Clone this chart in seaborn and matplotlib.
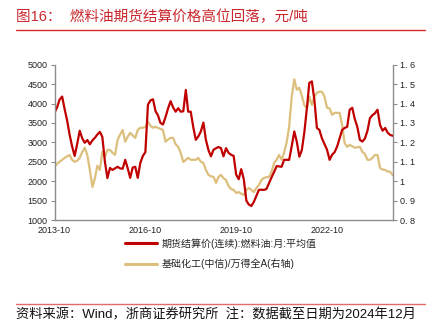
import numpy as np
import pandas as pd
import matplotlib
matplotlib.use("Agg")
import matplotlib.pyplot as plt
import matplotlib.dates as mdates
from matplotlib.lines import Line2D
from matplotlib.ticker import FuncFormatter, MultipleLocator
import seaborn as sns

# Monthly observations, 2013-10 .. 2024-12
start_month = "2013-10"
end_month = "2024-12"

# 期货结算价(连续):燃料油:月:平均值 (元/吨)
fuel_oil = [
    3760, 3900, 4100, 4180, 3850, 3580, 3200, 2900, 2650, 2950,
    3300, 3100, 2990, 3060, 2950, 3050, 3120, 3200, 3270, 3140,
    2500, 2080, 2340, 2290, 2330, 2370, 2330, 2320, 2550, 2340,
    2085, 2350, 2370, 2085, 2470, 2650, 2750, 3970, 4080, 4110,
    3800, 3700, 3500, 3460, 3650, 3870, 4060, 3900, 3790, 3880,
    3790, 3800, 4350, 3790, 3790, 3400, 3065, 3150, 3280, 3510,
    3065, 2800, 2640, 2810, 2850, 2880, 2850, 2640, 2850, 2730,
    2680, 2650, 2170, 2050, 2310, 2050, 1500, 1400, 1360, 1465,
    1620, 1775, 1780, 1775, 1800, 1955, 2100, 2240, 2390, 2380,
    2370, 2550, 2550, 2550, 2900, 3280, 3020, 2630, 2800, 3270,
    3900, 4530, 4570, 4100, 3370, 3320, 3100, 2950, 2810, 2550,
    2680, 2750, 2900, 3100, 3320, 3370, 3400, 3840, 3890, 3600,
    3400, 3065, 3020, 3100, 3300, 3620, 3700, 3750, 3840, 3450,
    3300, 3370, 3250, 3190, 3170,
]

# 基础化工(中信)/万得全A (右轴)
chem_ratio = [
    1.073, 1.090, 1.100, 1.110, 1.120, 1.128, 1.135, 1.110, 1.100, 1.105,
    1.120, 1.151, 1.172, 1.135, 1.058, 0.970, 1.017, 1.079, 1.058, 1.151,
    1.125, 1.161, 1.161, 1.146, 1.135, 1.213, 1.240, 1.264, 1.203, 1.228,
    1.249, 1.235, 1.223, 1.264, 1.275, 1.275, 1.278, 1.306, 1.285, 1.275,
    1.280, 1.275, 1.270, 1.264, 1.203, 1.215, 1.223, 1.223, 1.190, 1.177,
    1.146, 1.099, 1.110, 1.120, 1.110, 1.110, 1.110, 1.120, 1.100, 1.094,
    1.058, 1.032, 1.025, 1.022, 0.991, 1.022, 1.032, 1.015, 1.006, 0.975,
    0.960, 0.955, 0.939, 0.944, 0.935, 0.929, 0.955, 0.965, 0.955, 0.944,
    0.965, 0.980, 1.006, 1.017, 1.020, 1.022, 1.048, 1.094, 1.110, 1.135,
    1.110, 1.146, 1.200, 1.280, 1.435, 1.525, 1.471, 1.481, 1.440, 1.390,
    1.378, 1.435, 1.393, 1.435, 1.455, 1.461, 1.461, 1.435, 1.378, 1.375,
    1.342, 1.352, 1.352, 1.352, 1.290, 1.197, 1.177, 1.187, 1.180, 1.172,
    1.175, 1.177, 1.151, 1.140, 1.110, 1.110, 1.120, 1.135, 1.135, 1.068,
    1.060, 1.058, 1.050, 1.048, 1.032,
]

x_ticks = ["2013-10", "2016-10", "2019-10", "2022-10"]
label_oil = "期货结算价(连续):燃料油:月:平均值"
label_chem = "基础化工(中信)/万得全A(右轴)"
title_text = "图16：  燃料油期货结算价格高位回落，元/吨"
source_text = "资料来源：Wind，浙商证券研究所  注：数据截至日期为2024年12月"

dates = pd.date_range(start_month, end_month, freq="MS")
df = pd.DataFrame({"date": dates, "oil": fuel_oil, "chem": chem_ratio})

RED = "#c00000"
GOLD = "#dcbf7c"
SPINE = "#8c8c8c"

sns.set_theme(style="white")
plt.rcParams["font.family"] = ["Liberation Sans", "Noto Sans CJK SC", "DejaVu Sans"]

fig = plt.figure(figsize=(4.33, 3.22), dpi=100)
ax = fig.add_axes([54.5 / 433, 1 - 220 / 322, (392.7 - 54.5) / 433, (220 - 64.7) / 322])
ax2 = ax.twinx()

sns.lineplot(data=df, x="date", y="oil", ax=ax, color=RED, linewidth=1.6, legend=False)
sns.lineplot(data=df, x="date", y="chem", ax=ax2, color=GOLD, linewidth=1.6, legend=False)
ax.set_zorder(ax2.get_zorder() + 1)
ax.patch.set_visible(False)

ax.set_xlim(dates[0], dates[-1])
ax.set_ylim(1000, 5000)
ax2.set_ylim(0.8, 1.6)
ax.yaxis.set_major_locator(MultipleLocator(500))
ax2.yaxis.set_major_locator(MultipleLocator(0.1))
ax2.yaxis.set_major_formatter(FuncFormatter(lambda v, p: f"{v:g}".replace(".", ". ")))
ax.set_xticks([pd.Timestamp(t) for t in x_ticks])
ax.xaxis.set_major_formatter(mdates.DateFormatter("%Y-%m"))
ax.set_xlabel("")
ax.set_ylabel("")
ax2.set_ylabel("")

for a in (ax, ax2):
    for side in ("left", "right", "bottom"):
        a.spines[side].set_color(SPINE)
        a.spines[side].set_linewidth(1.0)
    a.spines["top"].set_visible(False)
    a.tick_params(axis="both", which="major", direction="out", length=3, width=0.8,
                  color=SPINE, labelsize=6.5, labelcolor="#222222", pad=2)
ax.spines["right"].set_visible(False)
ax2.spines["left"].set_visible(False)
ax2.spines["bottom"].set_visible(False)
ax.tick_params(axis="x", pad=1.5)

handles = [Line2D([], [], color=RED, linewidth=2.2),
           Line2D([], [], color=GOLD, linewidth=2.2)]
fig.legend(handles, [label_oil, label_chem], loc="upper left",
           bbox_to_anchor=(125 / 433, 1 - 238 / 322), frameon=False,
           fontsize=7.2, handlelength=3.2, handletextpad=0.5,
           labelspacing=1.0, borderpad=0, borderaxespad=0)

fig.text(16 / 433, 1 - 17 / 322, title_text, fontsize=10.5, color="#c8282d",
         va="center", ha="left")
fig.add_artist(Line2D([16 / 433, 425 / 433], [1 - 30 / 322, 1 - 30 / 322],
                      color="#d42a2a", linewidth=1.0))
fig.add_artist(Line2D([16 / 433, 425 / 433], [1 - 304 / 322, 1 - 304 / 322],
                      color="#e46a6a", linewidth=1.0))
fig.text(16 / 433, 1 - 321 / 322, source_text, fontsize=9.5, color="#111111",
         va="bottom", ha="left")

fig.savefig("out.png", dpi=100)
